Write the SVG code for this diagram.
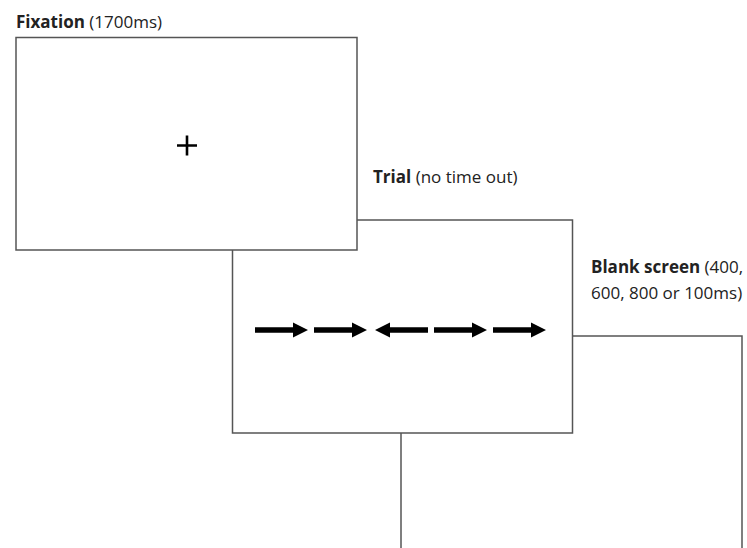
<svg xmlns="http://www.w3.org/2000/svg" width="747" height="548" viewBox="0 0 747 548">
<defs>
<style>
.scr{fill:#fff;stroke:#555;stroke-width:1.5}
.lbl{font-family:"Open Sans","Liberation Sans",sans-serif;font-size:17px;fill:#222}
.b{font-weight:bold}
.arr{fill:#000}
</style>
<path id="ar" class="arr" d="M0,-2.7 H38 V-7.5 L53,0 L38,7.5 V2.7 H0 Z"/>
</defs>
<rect width="747" height="548" fill="#fff"/>
<g id="connectors"></g>
<g id="blank">
<rect class="scr" x="401" y="336" width="341" height="230"/>
<text class="lbl" x="591" y="273"><tspan class="b">Blank screen</tspan> (400,</text>
<text class="lbl" x="591" y="299">600, 800 or 100ms)</text>
</g>
<g id="trial">
<rect class="scr" x="232.5" y="220" width="340" height="213"/>
<text class="lbl" x="373" y="183"><tspan class="b">Trial</tspan> (no time out)</text>
<use href="#ar" x="255" y="330"/>
<use href="#ar" x="314" y="330"/>
<use href="#ar" transform="translate(428,330) scale(-1,1)"/>
<use href="#ar" x="434" y="330"/>
<use href="#ar" x="493" y="330"/>
</g>
<g id="fixation">
<rect class="scr" x="16" y="37.5" width="341" height="212.5"/>
<text class="lbl" x="16" y="28"><tspan class="b">Fixation</tspan> (1700ms)</text>
<path d="M177,145.5 H197 M187,135.5 V155.5" stroke="#000" stroke-width="2.6" fill="none"/>
</g>
</svg>
